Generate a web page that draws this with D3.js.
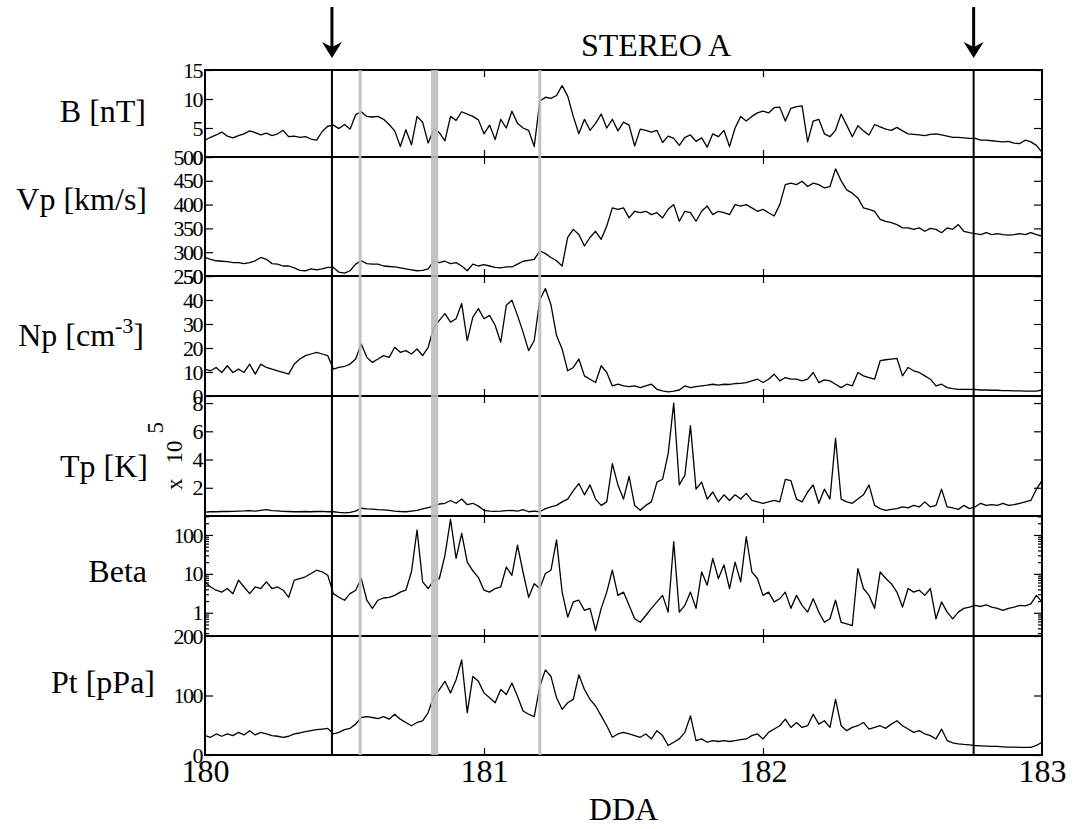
<!DOCTYPE html>
<html>
<head>
<meta charset="utf-8">
<script src="https://cdn.jsdelivr.net/npm/d3@7"></script>
<style>
body { margin: 0; background: #fff }
svg text { font-family: "Liberation Serif", "Times New Roman", serif; fill: #000 }
</style>
</head>
<body>
<div id="chart"></div>
<script>
// samples every 0.02 day, starting at DDA 180
var tStart = 180, tStep = 0.02

var bField = [
	2.9, 3.4, 3.8, 4.3, 3.6, 3.3, 3.7, 4.0, 4.5, 4.2,
	3.8, 4.1, 3.7, 4.0, 4.6, 3.5, 3.6, 3.4, 3.5, 3.1,
	2.9, 4.4, 5.3, 5.5, 4.9, 5.6, 4.8, 7.3, 7.8, 7.0,
	6.9, 7.0, 6.5, 5.6, 4.5, 1.8, 4.7, 2.1, 7.0, 6.0,
	2.4, 4.8, 4.2, 2.8, 7.0, 6.3, 7.8, 7.4, 7.0, 6.4,
	4.0, 5.5, 3.0, 6.5, 5.0, 7.9, 5.8, 5.0, 4.6, 1.8,
	9.6, 10.3, 10.1, 10.6, 12.3, 10.5, 7.0, 4.0, 6.5, 4.6,
	5.8, 7.4, 5.0, 6.5, 4.5, 6.0, 5.5, 1.9, 4.8, 4.6,
	4.3, 4.6, 2.5, 3.6, 3.2, 2.0, 3.4, 3.8, 2.7, 3.3,
	1.7, 4.0, 3.5, 4.6, 1.8, 5.0, 7.0, 6.2, 7.0, 7.6,
	7.9, 7.6, 8.5, 8.6, 6.2, 8.4, 8.7, 8.8, 2.6, 6.2,
	6.5, 4.0, 3.5, 4.6, 7.4, 5.5, 3.5, 5.4, 4.5, 3.8,
	5.6, 5.2, 4.8, 4.6, 5.1, 4.5, 4.0, 3.9, 3.8, 3.7,
	3.9, 4.0, 3.8, 3.6, 3.4, 3.4, 3.3, 3.2, 3.2, 2.9,
	2.9, 2.8, 2.7, 2.6, 2.7, 2.4, 2.3, 2.9, 2.6, 2.0, 0.8
]

var vp = [
	289, 285, 282, 281, 280, 278, 278, 276, 278, 282,
	289, 285, 276, 275, 271, 271, 267, 262, 261, 265,
	263, 265, 268, 268, 258, 256, 261, 275, 282, 276,
	275, 275, 271, 270, 269, 267, 265, 263, 261, 262,
	265, 282, 278, 281, 276, 278, 271, 261, 275, 271,
	274, 271, 268, 267, 269, 269, 275, 281, 283, 285,
	303, 297, 289, 282, 271, 331, 348, 337, 313, 331,
	344, 327, 355, 393, 390, 393, 372, 386, 383, 386,
	379, 383, 372, 390, 400, 365, 386, 383, 365, 386,
	397, 379, 386, 383, 379, 400, 397, 400, 393, 386,
	390, 383, 376, 400, 442, 445, 442, 449, 438, 445,
	442, 435, 438, 475, 450, 431, 424, 414, 393, 390,
	386, 369, 365, 362, 358, 351, 351, 348, 351, 344,
	350, 348, 341, 351, 348, 358, 344, 341, 339, 337,
	341, 337, 339, 337, 336, 337, 339, 337, 341, 337, 334
]

var np = [
	11.2, 10.5, 11.9, 9.8, 12.6, 9.8, 11.2, 9.8, 13.3, 9.1,
	13.3, 11.9, 11.2, 10.5, 9.8, 9.1, 13.3, 15.4, 16.8, 17.5,
	18.2, 17.5, 16.8, 11.2, 11.9, 12.3, 13.3, 15.4, 21.7, 16.1,
	14.0, 15.4, 16.8, 16.1, 20.3, 18.2, 18.9, 17.5, 19.6, 16.8,
	20.3, 28.7, 31.5, 34.3, 30.8, 32.2, 38.5, 23.1, 32.9, 36.4,
	32.2, 33.6, 29.4, 22.4, 37.8, 39.9, 33.6, 26.6, 18.9, 23.1,
	40.0, 44.8, 38.0, 25.2, 19.6, 10.5, 11.9, 15.4, 8.4, 7.0,
	5.6, 12.6, 9.8, 4.2, 4.9, 4.2, 3.9, 4.2, 3.5, 4.2,
	4.9, 2.8, 2.1, 1.7, 2.0, 2.5, 4.2, 3.5, 3.9, 4.2,
	4.5, 4.9, 4.5, 4.9, 4.8, 5.2, 5.3, 5.6, 6.3, 7.0,
	5.6, 7.0, 9.1, 6.3, 7.7, 7.0, 7.0, 6.3, 7.0, 9.8,
	5.6, 6.7, 6.3, 4.9, 3.5, 4.9, 4.2, 9.8, 8.4, 7.7,
	7.0, 14.7, 15.1, 15.4, 15.7, 8.4, 11.9, 10.5, 9.8, 8.4,
	7.0, 4.2, 4.9, 3.5, 3.1, 2.8, 2.8, 2.8, 2.7, 2.5,
	2.5, 2.4, 2.4, 2.2, 2.2, 2.1, 2.1, 2.0, 2.0, 2.0, 2.5
]

// proton temperature, in units of 1e5 K
var tp = [
	0.28, 0.30, 0.30, 0.32, 0.32, 0.33, 0.35, 0.36, 0.38, 0.35,
	0.40, 0.45, 0.38, 0.36, 0.33, 0.32, 0.30, 0.30, 0.32, 0.30,
	0.32, 0.33, 0.30, 0.30, 0.25, 0.22, 0.25, 0.35, 0.55, 0.50,
	0.48, 0.45, 0.43, 0.40, 0.35, 0.32, 0.30, 0.35, 0.40, 0.50,
	0.60, 0.70, 0.85, 0.90, 1.10, 0.90, 1.20, 0.80, 0.90, 0.70,
	0.40, 0.35, 0.33, 0.35, 0.38, 0.40, 0.35, 0.45, 0.30, 0.35,
	0.30, 0.52, 0.64, 0.75, 1.0, 1.2, 1.8, 2.3, 1.5, 2.2,
	1.2, 0.75, 1.0, 3.7, 2.2, 1.2, 2.8, 0.75, 0.40, 0.75,
	1.0, 2.4, 2.6, 4.4, 8.0, 2.2, 2.9, 6.4, 1.9, 2.4,
	1.2, 1.7, 1.0, 1.5, 1.1, 1.5, 1.2, 1.6, 1.1, 1.0,
	0.9, 1.0, 1.1, 1.0, 2.6, 2.5, 1.2, 1.0, 1.7, 2.2,
	0.9, 1.9, 1.2, 5.5, 1.2, 1.0, 0.9, 1.2, 1.5, 2.2,
	0.75, 0.52, 0.40, 0.47, 0.52, 0.64, 0.57, 0.75, 0.64, 1.0,
	0.64, 0.75, 1.9, 0.64, 0.57, 0.47, 0.75, 0.52, 0.64, 0.90,
	0.75, 0.80, 0.75, 0.90, 0.75, 0.80, 0.90, 1.0, 1.1, 1.9, 2.5
]

var beta = [
	6.2, 4.6, 3.8, 3.4, 4.2, 3.1, 6.9, 4.6, 3.1, 4.6,
	4.2, 6.2, 4.2, 4.6, 3.8, 2.5, 6.9, 7.6, 8.4, 10.2,
	12.4, 11.3, 9.2, 3.1, 2.5, 2.1, 3.1, 3.8, 7.6, 2.1,
	1.3, 2.1, 2.4, 2.5, 2.8, 3.4, 3.8, 11.3, 134, 6.2,
	4.2, 6.9, 7.6, 30, 250, 25, 110, 20, 12, 8,
	3.8, 3.4, 4.2, 4.6, 15, 9.2, 55, 11, 2.5, 5.6,
	4.2, 10.2, 12.4, 75, 3.4, 0.77, 1.9, 2.1, 1.15, 1.3,
	0.35, 1.3, 3.4, 12.4, 2.8, 3.4, 1.55, 0.7, 0.57, 0.85,
	1.3, 1.9, 2.8, 1.04, 67, 1.04, 1.55, 3.4, 1.3, 11.3,
	5.1, 25, 7.6, 17, 4.2, 20, 6.2, 90, 11.3, 7.6,
	2.8, 3.4, 1.9, 2.3, 3.4, 1.3, 2.8, 1.55, 1.04, 2.3,
	1.04, 0.57, 0.7, 2.1, 0.57, 0.52, 0.47, 13.7, 4.2, 2.8,
	1.3, 11.3, 7.6, 5.6, 3.4, 1.4, 4.2, 3.4, 3.8, 2.8,
	4.2, 0.7, 1.9, 1.04, 0.7, 1.04, 1.3, 1.4, 1.55, 1.45,
	1.6, 1.4, 1.3, 1.15, 1.3, 1.4, 1.55, 1.5, 1.7, 2.8, 1.9
]

var pt = [
	32.6, 29.8, 35.4, 31.5, 35.4, 32.6, 38.1, 33.7, 40.9, 33.7,
	38.1, 35.4, 32.6, 31.5, 29.8, 31.5, 35.4, 37.0, 39.2, 40.9,
	42.5, 43.6, 44.8, 35.4, 38.1, 42.5, 44.8, 51.9, 63.0, 64.6,
	63.0, 61.3, 64.6, 60.2, 68.5, 60.2, 54.7, 49.2, 54.7, 57.5,
	71.3, 98.9, 110, 123.8, 104.4, 126.5, 159.7, 71.3, 132, 123.8,
	104.4, 96.1, 87.8, 110, 101.7, 121, 98.9, 74, 68.5, 64.6,
	115.5, 143, 132, 96.1, 76.8, 87.8, 93.4, 134.8, 110, 93.4,
	82.3, 65.7, 49.2, 29.8, 35.4, 38.1, 35.4, 32.6, 29.8, 35.4,
	27, 40.9, 32.6, 16, 21.5, 27, 38.1, 65.7, 24.3, 27,
	21.5, 24.3, 22.7, 24.3, 22.7, 24.3, 26, 27, 32.6, 35.4,
	27, 38.1, 43.6, 49.2, 60.2, 46.4, 54.7, 46.4, 49.2, 68.5,
	51.9, 57.5, 46.4, 93.4, 49.2, 40.9, 46.4, 49.2, 54.7, 43.6,
	46.4, 49.2, 44.8, 51.9, 57.5, 49.2, 43.6, 38.1, 40.9, 35.4,
	32.6, 27, 43.6, 24.3, 20.4, 18.8, 17.7, 17.1, 16, 15.5,
	14.9, 14.4, 14.4, 13.8, 13.3, 13.3, 12.7, 12.7, 12.7, 16, 21.5
]

var xTicks = [180, 181, 182, 183]
var xMinorTicks = [181, 182]
var boundaries = [180.455, 182.755]
var grayLines = [180.556, 181.2]
var grayBand = [180.81, 180.836]

var panels = [
	{label: "B [nT]", values: bField, domain: [0, 15], ticks: [0, 5, 10, 15]},
	{label: "Vp [km/s]", values: vp, domain: [250, 500], ticks: [250, 300, 350, 400, 450, 500]},
	{label: "Np [cm", sup: "-3", tail: "]", values: np, domain: [0, 50], ticks: [0, 10, 20, 30, 40, 50]},
	{label: "Tp [K]", values: tp, domain: [0, 8.5], ticks: [2, 4, 6, 8]},
	{label: "Beta", values: beta, domain: [0.253, 307], ticks: [1, 10, 100], log: true},
	{label: "Pt [pPa]", values: pt, domain: [0, 200], ticks: [0, 100, 200]}
]

// layout
var width = 1075, height = 829
var left = 205, right = 1042
var edges = [70, 157, 276, 396, 516, 636, 755]
var labelPos = [[146, 122], [147, 210], [144, 346], [148, 477], [147, 582], [155, 693]]
var serif = "'Liberation Serif', 'Times New Roman', serif"

var svg = d3.select("#chart").append("svg")
	.attr("width", width)
	.attr("height", height)
	.style("font-family", serif)

var x = d3.scaleLinear().domain([180, 183]).range([left, right])

function serifText(sel, size) {
	return sel.style("font-family", serif).attr("font-size", size).attr("fill", "#000")
}

panels.forEach(function(p, k) {
	var y0 = edges[k], y1 = edges[k+1]
	var y = (p.log ? d3.scaleLog() : d3.scaleLinear()).domain(p.domain).range([y1, y0])
	var g = svg.append("g").attr("class", "panel")

	g.append("clipPath").attr("id", "clip" + k)
		.append("rect")
		.attr("x", left).attr("y", y0)
		.attr("width", right - left).attr("height", y1 - y0)

	var line = d3.line()
		.x(function(d, i) { return x(tStart + i * tStep) })
		.y(function(d) { return y(d) })

	g.append("path")
		.datum(p.values)
		.attr("clip-path", "url(#clip" + k + ")")
		.attr("d", line)
		.attr("fill", "none")
		.attr("stroke", "#000")
		.attr("stroke-width", 1.3)
		.attr("stroke-linejoin", "round")

	var axL = g.append("g")
		.attr("transform", "translate(" + left + ",0)")
		.call(d3.axisLeft(y).tickValues(p.ticks).tickSize(-8).tickSizeOuter(0).tickPadding(3)
			.tickFormat(d3.format("d")))
	g.append("g")
		.attr("transform", "translate(" + right + ",0)")
		.call(d3.axisRight(y).tickValues(p.ticks).tickSize(-8).tickSizeOuter(0).tickFormat(""))

	if (p.log) {
		var minor = []
		;[0.1, 1, 10, 100].forEach(function(dec) {
			for (var m = 2; m <= 9; m++) {
				var v = dec * m
				if (v > p.domain[0] && v < p.domain[1]) minor.push(v)
			}
		})
		g.append("g").attr("transform", "translate(" + left + ",0)")
			.call(d3.axisLeft(y).tickValues(minor).tickSize(-4).tickSizeOuter(0).tickFormat(""))
		g.append("g").attr("transform", "translate(" + right + ",0)")
			.call(d3.axisRight(y).tickValues(minor).tickSize(-4).tickSizeOuter(0).tickFormat(""))
	}

	g.append("g").attr("transform", "translate(0," + y1 + ")")
		.call(d3.axisBottom(x).tickValues(xMinorTicks).tickSize(-7).tickSizeOuter(0).tickFormat(""))
	g.append("g").attr("transform", "translate(0," + y0 + ")")
		.call(d3.axisTop(x).tickValues(xMinorTicks).tickSize(-7).tickSizeOuter(0).tickFormat(""))

	g.selectAll(".domain").remove()
	g.selectAll(".tick line").attr("stroke", "#000").attr("stroke-width", 1.2)
	axL.attr("font-family", null)
	serifText(axL.selectAll("text"), 22).attr("letter-spacing", -1.5)

	g.append("rect")
		.attr("x", left).attr("y", y0)
		.attr("width", right - left).attr("height", y1 - y0)
		.attr("fill", "none")
		.attr("stroke", "#000")
		.attr("stroke-width", 2)

	var lab = serifText(g.append("text"), 32)
		.attr("x", labelPos[k][0])
		.attr("y", labelPos[k][1])
		.attr("text-anchor", "end")
		.text(p.label)
	if (p.sup) {
		lab.append("tspan").attr("dy", -13).attr("font-size", 22).text(p.sup)
		lab.append("tspan").attr("dy", 13).text(p.tail)
	}
})

// Tp scale factor, rotated
var xf = serifText(svg.append("text"), 23)
	.attr("transform", "translate(182,490) rotate(-90)")
	.text("x")
xf.append("tspan").attr("dx", 15).text("10")
xf.append("tspan").attr("dx", 7).attr("dy", -19).text("5")

// shaded interval and marker lines on top of the traces
svg.append("rect")
	.attr("x", x(grayBand[0]))
	.attr("y", edges[0])
	.attr("width", x(grayBand[1]) - x(grayBand[0]))
	.attr("height", edges[6] - edges[0])
	.attr("fill", "#bdbdbd")
	.attr("opacity", 0.9)

svg.selectAll(".gray").data(grayLines).enter().append("line")
	.attr("x1", x).attr("x2", x)
	.attr("y1", edges[0]).attr("y2", edges[6])
	.attr("stroke", "#bdbdbd")
	.attr("stroke-width", 3)
	.attr("opacity", 0.9)

svg.selectAll(".bound").data(boundaries).enter().append("line")
	.attr("x1", x).attr("x2", x)
	.attr("y1", edges[0]).attr("y2", edges[6])
	.attr("stroke", "#000")
	.attr("stroke-width", 2)

// arrows above the boundaries
boundaries.forEach(function(b) {
	var cx = x(b)
	svg.append("line")
		.attr("x1", cx).attr("x2", cx)
		.attr("y1", 7).attr("y2", 48)
		.attr("stroke", "#000")
		.attr("stroke-width", 3)
	svg.append("path")
		.attr("d", "M" + (cx - 10) + ",42 L" + cx + ",47 L" + (cx + 10) + ",42 L" + cx + ",58 Z")
		.attr("fill", "#000")
})

// x axis labels
var xa = svg.append("g")
	.attr("transform", "translate(0," + edges[6] + ")")
	.call(d3.axisBottom(x).tickValues(xTicks).tickSize(0).tickPadding(4).tickFormat(d3.format("d")))
xa.select(".domain").remove()
xa.attr("font-family", null)
serifText(xa.selectAll("text"), 32)

serifText(svg.append("text"), 32)
	.attr("x", (left + right) / 2)
	.attr("y", 820)
	.attr("text-anchor", "middle")
	.text("DDA")

serifText(svg.append("text"), 32)
	.attr("x", 656)
	.attr("y", 56)
	.attr("text-anchor", "middle")
	.text("STEREO A")
</script>
</body>
</html>
